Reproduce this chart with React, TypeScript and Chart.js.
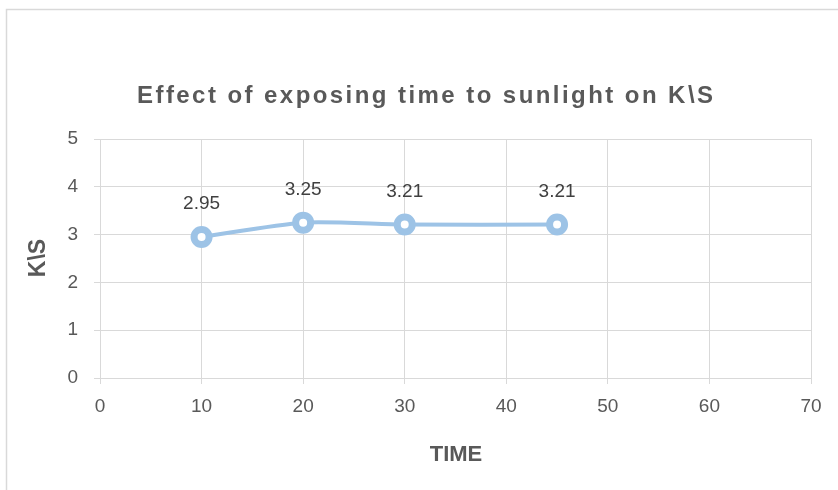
import React, { useEffect, useRef } from "react";
import { Chart, registerables } from "chart.js";

Chart.register(...registerables);

const timeValues = [10, 20, 30, 45];
const ksValues = [2.95, 3.25, 3.21, 3.21];
const dataLabels = ["2.95", "3.25", "3.21", "3.21"];
const titleText = "Effect of exposing time to sunlight on K\\S";
const xTitle = "TIME";
const yTitle = "K\\S";

const W = 838;
const H = 490;

const decorPlugin = {
  id: "decor",
  beforeDraw(chart: any) {
    const ctx = chart.ctx;
    ctx.save();
    ctx.fillStyle = "#ffffff";
    ctx.fillRect(0, 0, W, H);
    ctx.strokeStyle = "#D9D9D9";
    ctx.lineWidth = 1.5;
    ctx.strokeRect(6.5, 9.5, 1000, 1000);
    ctx.restore();
  },
  afterDatasetsDraw(chart: any) {
    const ctx = chart.ctx;
    const meta = chart.getDatasetMeta(0);
    ctx.save();
    ctx.fillStyle = "#404040";
    ctx.font = "19px 'Liberation Sans', Arial, sans-serif";
    ctx.textAlign = "center";
    ctx.textBaseline = "middle";
    meta.data.forEach((pt: any, i: number) => {
      ctx.fillText(dataLabels[i], pt.x, pt.y - 33);
    });
    ctx.restore();
  },
  afterDraw(chart: any) {
    const ctx = chart.ctx;
    ctx.save();
    ctx.fillStyle = "#595959";
    // main title
    ctx.font = "bold 24px 'Liberation Sans', Arial, sans-serif";
    ctx.textBaseline = "alphabetic";
    ctx.textAlign = "left";
    const targetW = 576;
    (ctx as any).letterSpacing = "0px";
    const mw = ctx.measureText(titleText).width;
    const sp = (targetW - mw) / (titleText.length - 1);
    (ctx as any).letterSpacing = sp + "px";
    ctx.fillText(titleText, 137, 103);
    (ctx as any).letterSpacing = "0px";
    // x title
    ctx.textAlign = "center";
    ctx.font = "bold 22px 'Liberation Sans', Arial, sans-serif";
    ctx.fillText(xTitle, 456, 461);
    // y title
    ctx.translate(45, 258);
    ctx.rotate(-Math.PI / 2);
    ctx.font = "bold 23px 'Liberation Sans', Arial, sans-serif";
    ctx.fillText(yTitle, 0, 0);
    ctx.restore();
  },
};

export default function App() {
  const ref = useRef<HTMLCanvasElement>(null);
  useEffect(() => {
    if (!ref.current) return;
    const blue = "#9DC3E6";
    const chart = new Chart(ref.current, {
      type: "line",
      data: {
        datasets: [
          {
            data: timeValues.map((x, i) => ({ x, y: ksValues[i] })),
            borderColor: blue,
            borderWidth: 4,
            tension: 0.25,
            pointRadius: 7.5,
            pointBorderWidth: 7,
            pointBackgroundColor: "#ffffff",
            pointBorderColor: blue,
            fill: false,
          } as any,
        ],
      },
      options: {
        responsive: false,
        animation: false,
        layout: { padding: { top: 139, right: 27, left: 0, bottom: 0 } },
        plugins: {
          legend: { display: false },
          tooltip: { enabled: false },
          title: { display: false },
        },
        scales: {
          x: {
            type: "linear",
            min: 0,
            max: 70,
            ticks: {
              stepSize: 10,
              color: "#595959",
              font: { size: 19, family: "'Liberation Sans', Arial, sans-serif" },
              padding: 11,
            },
            grid: { color: "#D9D9D9", tickLength: 6, lineWidth: 1 },
            border: { color: "#D9D9D9" },
            afterFit: (s: any) => {
              s.height = 112;
            },
          },
          y: {
            min: 0,
            max: 5,
            ticks: {
              stepSize: 1,
              color: "#595959",
              font: { size: 19, family: "'Liberation Sans', Arial, sans-serif" },
              padding: 16,
            },
            grid: { color: "#D9D9D9", tickLength: 6, lineWidth: 1 },
            border: { color: "#D9D9D9" },
            afterFit: (s: any) => {
              s.width = 100;
            },
          },
        },
      },
      plugins: [decorPlugin],
    });
    return () => chart.destroy();
  }, []);
  return (
    <canvas
      ref={ref}
      width={W}
      height={H}
      style={{ position: "absolute", left: 0, top: 0, width: W, height: H }}
    />
  );
}
